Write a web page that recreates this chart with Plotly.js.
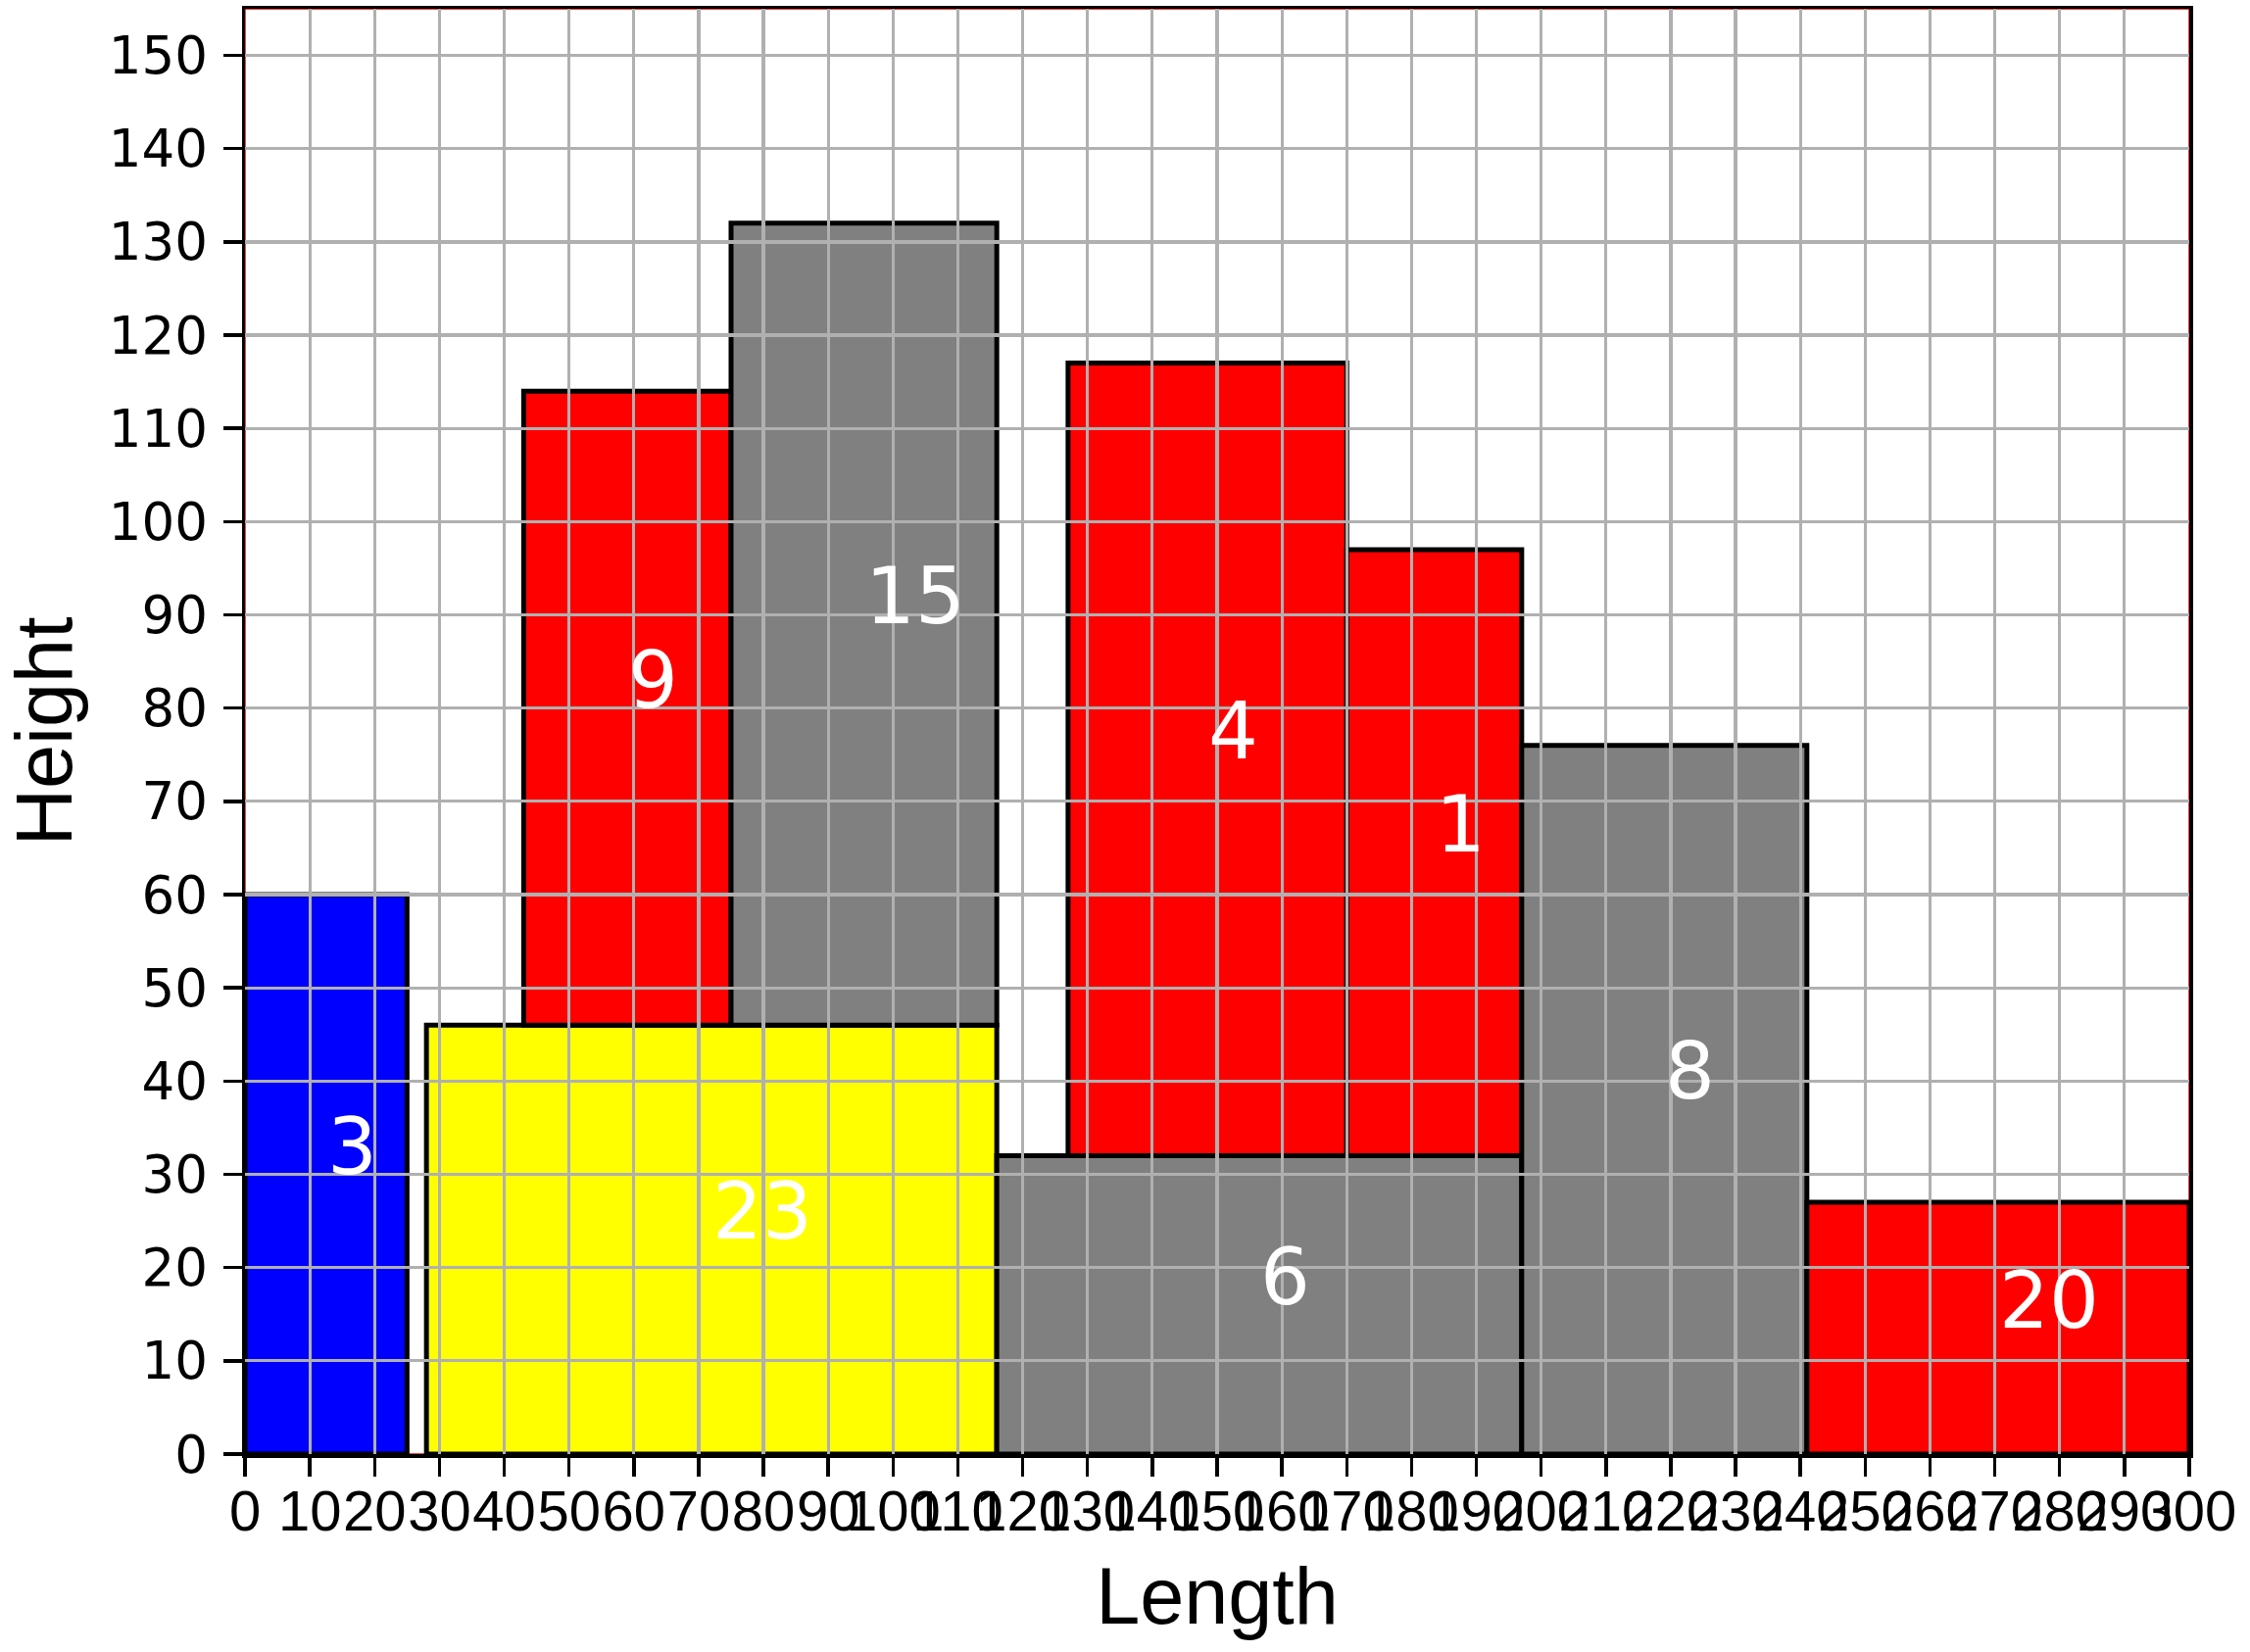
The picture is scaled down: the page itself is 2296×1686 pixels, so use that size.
<!DOCTYPE html>
<html>
<head>
<meta charset="utf-8">
<script src="https://cdn.plot.ly/plotly-3.0.1.min.js"></script>
<style>
  html, body { margin: 0; padding: 0; background: #ffffff; }
  #chart { width: 2296px; height: 1686px; }
</style>
</head>
<body>
<div id="chart"></div>
<script>
// ---- data ----
const binWidth = 300;
const binHeight = 155;
const rectX = [0, 28, 43, 75, 116, 127, 170, 197, 241];
const rectY = [0, 0, 46, 46, 0, 32, 32, 0, 0];
const rectW = [25, 88, 32, 41, 81, 43, 27, 44, 59];
const rectH = [60, 46, 68, 86, 32, 85, 65, 76, 27];
const rectLabels = ['3', '23', '9', '15', '6', '4', '1', '8', '20'];
const rectColors = ['#0000ff', '#ffff00', '#ff0000', '#808080', '#808080', '#ff0000', '#ff0000', '#808080', '#ff0000'];
const xTickVals = [0,10,20,30,40,50,60,70,80,90,100,110,120,130,140,150,160,170,180,190,200,210,220,230,240,250,260,270,280,290,300];
const yTickVals = [0,10,20,30,40,50,60,70,80,90,100,110,120,130,140,150];

// ---- shapes: bin outline + rectangles (drawn below the grid, as in the reference) ----
const shapes = [{
  type: 'rect', xref: 'x', yref: 'y', layer: 'below',
  x0: 0, y0: 0, x1: binWidth, y1: binHeight,
  line: { color: '#ff0000', width: 1.5 }, fillcolor: 'rgba(0,0,0,0)'
}];
const annotations = [];
for (let i = 0; i < rectX.length; i++) {
  shapes.push({
    type: 'rect', xref: 'x', yref: 'y', layer: 'below',
    x0: rectX[i], y0: rectY[i], x1: rectX[i] + rectW[i], y1: rectY[i] + rectH[i],
    fillcolor: rectColors[i],
    line: { color: '#000000', width: 5 }
  });
  annotations.push({
    xref: 'x', yref: 'y',
    x: rectX[i] + rectW[i] / 2, y: rectY[i] + rectH[i] / 2,
    text: rectLabels[i], showarrow: false,
    xanchor: 'left', yanchor: 'bottom', xshift: -1, yshift: -20,
    font: { family: 'DejaVu Sans', size: 80, color: '#ffffff' }
  });
}

const layout = {
  width: 2296, height: 1686,
  margin: { l: 250, r: 62, t: 9, b: 202, pad: 0 },
  paper_bgcolor: '#ffffff', plot_bgcolor: '#ffffff',
  showlegend: false,
  xaxis: {
    range: [0, binWidth], tickmode: 'array', tickvals: xTickVals, ticktext: xTickVals.map(String),
    tickangle: 0, showgrid: true, gridcolor: '#b0b0b0', gridwidth: 3.2, zeroline: false,
    showline: true, mirror: true, linecolor: '#000000', linewidth: 3.5,
    ticks: 'outside', ticklen: 19, tickwidth: 3.5, tickcolor: '#000000',
    ticklabelstandoff: -14,
    tickfont: { family: 'Liberation Sans', size: 58, color: '#000000' },
    title: { text: 'Length', standoff: 28, font: { family: 'Liberation Sans', size: 81, color: '#000000' } },
    automargin: false, fixedrange: true
  },
  yaxis: {
    range: [0, binHeight], tickmode: 'array', tickvals: yTickVals, ticktext: yTickVals.map(String),
    showgrid: true, gridcolor: '#b0b0b0', gridwidth: 3.2, zeroline: false,
    showline: true, mirror: true, linecolor: '#000000', linewidth: 3.5,
    ticks: 'outside', ticklen: 19, tickwidth: 3.5, tickcolor: '#000000',
    ticklabelstandoff: 5,
    tickfont: { family: 'DejaVu Sans', size: 53, color: '#000000' },
    title: { text: 'Height', standoff: 45, font: { family: 'Liberation Sans', size: 81, color: '#000000' } },
    automargin: false, fixedrange: true
  },
  shapes: shapes,
  annotations: annotations
};

Plotly.newPlot('chart', [], layout, { displayModeBar: false, staticPlot: true });
</script>
</body>
</html>
